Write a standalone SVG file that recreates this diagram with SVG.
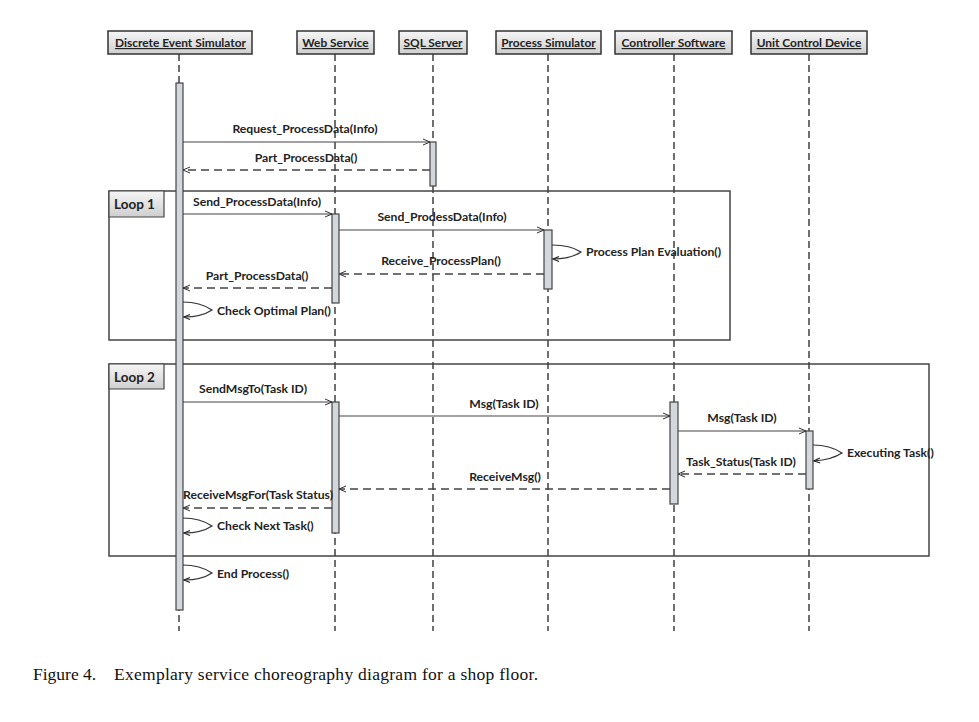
<svg xmlns="http://www.w3.org/2000/svg" width="979" height="722" viewBox="0 0 979 722">
<defs>
<linearGradient id="hg" x1="0" y1="0" x2="0" y2="1">
<stop offset="0" stop-color="#f6f6f6"/><stop offset="1" stop-color="#cfcfcf"/>
</linearGradient>
<marker id="arr" markerWidth="10" markerHeight="10" refX="8" refY="4" orient="auto" markerUnits="userSpaceOnUse">
<path d="M1,1 L8,4 L1,7" fill="none" stroke="#333" stroke-width="1"/>
</marker>
<marker id="arr2" markerWidth="10" markerHeight="10" refX="7" refY="4" orient="auto" markerUnits="userSpaceOnUse">
<path d="M1,1.5 L7,4 L1,6.5" fill="none" stroke="#222" stroke-width="1.2"/>
</marker>
</defs>
<style>
.hdr rect{fill:url(#hg);stroke:#333;stroke-width:1.5}
.hdr text{font-family:Lato,"Open Sans",sans-serif;font-weight:bold;font-size:11.9px;fill:#222;text-anchor:middle;text-decoration:underline}
.life{stroke:#333;stroke-width:1.4;stroke-dasharray:7,4}
.bar{fill:#d4d7db;stroke:#444;stroke-width:1.2}
.msg{stroke:#444;stroke-width:1.2;fill:none;marker-end:url(#arr)}
.ret{stroke:#444;stroke-width:1.4;fill:none;stroke-dasharray:8,5;marker-end:url(#arr)}
.self{stroke:#333;stroke-width:1.2;fill:none;marker-end:url(#arr2)}
.lbl{font-family:Lato,"Open Sans",sans-serif;font-weight:bold;font-size:12.2px;fill:#222}
.tag{font-family:Lato,"Open Sans",sans-serif;font-weight:bold;font-size:13.5px;fill:#222}
.frame{fill:none;stroke:#444;stroke-width:1.5}
.ftag{fill:url(#hg);stroke:#444;stroke-width:1.2}
.cap{font-family:"Liberation Serif",serif;font-size:17.5px;fill:#111}
</style>
<rect width="979" height="722" fill="#fff"/>

<g id="lifelines">
<line class="life" x1="179" y1="54" x2="179" y2="631"/>
<line class="life" x1="335" y1="54" x2="335" y2="631"/>
<line class="life" x1="433" y1="54" x2="433" y2="631"/>
<line class="life" x1="548" y1="54" x2="548" y2="631"/>
<line class="life" x1="674" y1="54" x2="674" y2="631"/>
<line class="life" x1="809" y1="54" x2="809" y2="631"/>
</g>

<g id="loop1">
<rect class="frame" x="109" y="191" width="621" height="149"/>
<path class="ftag" d="M109,191 H164 V217 H109 Z"/>
<text class="tag" x="114" y="209">Loop 1</text>
</g>
<g id="loop2">
<rect class="frame" x="109" y="364" width="820" height="192"/>
<path class="ftag" d="M109,364 H164 V389 H109 Z"/>
<text class="tag" x="114" y="381.5">Loop 2</text>
</g>

<g id="h-des" class="hdr"><rect x="108" y="31" width="144" height="23"/><text x="180.5" y="47">Discrete Event Simulator</text></g>
<g id="h-ws" class="hdr"><rect x="297" y="31" width="77" height="23"/><text x="335.5" y="47">Web Service</text></g>
<g id="h-sql" class="hdr"><rect x="399" y="31" width="68" height="23"/><text x="433" y="47">SQL Server</text></g>
<g id="h-ps" class="hdr"><rect x="496" y="31" width="105" height="23"/><text x="548.5" y="47">Process Simulator</text></g>
<g id="h-cs" class="hdr"><rect x="615" y="31" width="117" height="23"/><text x="673.5" y="47">Controller Software</text></g>
<g id="h-ucd" class="hdr"><rect x="751" y="31" width="116" height="23"/><text x="809" y="47">Unit Control Device</text></g>

<g id="activations">
<rect class="bar" x="176" y="83" width="7" height="527"/>
<rect class="bar" x="430" y="142" width="6" height="44"/>
<rect class="bar" x="332" y="214" width="7" height="89"/>
<rect class="bar" x="544" y="230" width="8" height="59"/>
<rect class="bar" x="332" y="402" width="7" height="131"/>
<rect class="bar" x="670" y="402" width="8" height="102"/>
<rect class="bar" x="806" y="431" width="7" height="58"/>
</g>

<g id="connectors">
<line class="msg" x1="183" y1="142" x2="430" y2="142"/>
<line class="ret" x1="430" y1="170" x2="183" y2="170"/>
<line class="msg" x1="183" y1="214" x2="332" y2="214"/>
<line class="msg" x1="339" y1="230" x2="544" y2="230"/>
<path class="self" d="M552,245 C566,245 575,248 581,252 C575,256 566,259 553,259"/>
<line class="ret" x1="544" y1="274" x2="339" y2="274"/>
<line class="ret" x1="332" y1="288" x2="183" y2="288"/>
<path class="self" d="M183,302 C197,302 206,306 212,310 C206,314 197,317 184,317"/>
<line class="msg" x1="183" y1="402" x2="332" y2="402"/>
<line class="msg" x1="339" y1="416" x2="670" y2="416"/>
<line class="msg" x1="678" y1="431" x2="806" y2="431"/>
<path class="self" d="M813,445 C827,445 836,449 842,453 C836,457 827,460 814,461"/>
<line class="ret" x1="806" y1="474" x2="678" y2="474"/>
<line class="ret" x1="670" y1="489" x2="339" y2="489"/>
<line class="ret" x1="332" y1="508" x2="183" y2="508"/>
<path class="self" d="M183,518 C197,518 206,522 212,526 C206,530 197,533 184,533"/>
<path class="self" d="M183,565 C197,565 206,569 212,573 C206,577 197,580 184,580"/>
</g>

<g id="labels">
<text class="lbl" x="305" y="133" text-anchor="middle">Request_ProcessData(Info)</text>
<text class="lbl" x="306" y="162" text-anchor="middle">Part_ProcessData()</text>
<text class="lbl" x="257" y="206" text-anchor="middle">Send_ProcessData(Info)</text>
<text class="lbl" x="442" y="221" text-anchor="middle">Send_ProdessData(Info)</text>
<text class="lbl" x="586" y="256">Process Plan Evaluation()</text>
<text class="lbl" x="441" y="265" text-anchor="middle">Receive_ProcessPlan()</text>
<text class="lbl" x="257" y="280" text-anchor="middle">Part_ProcessData()</text>
<text class="lbl" x="217" y="315">Check Optimal Plan()</text>
<text class="lbl" x="253" y="393" text-anchor="middle">SendMsgTo(Task ID)</text>
<text class="lbl" x="504" y="408" text-anchor="middle">Msg(Task ID)</text>
<text class="lbl" x="742" y="422" text-anchor="middle">Msg(Task ID)</text>
<text class="lbl" x="847" y="457">Executing Task()</text>
<text class="lbl" x="741" y="466" text-anchor="middle">Task_Status(Task ID)</text>
<text class="lbl" x="505" y="481" text-anchor="middle">ReceiveMsg()</text>
<text class="lbl" x="258" y="499" text-anchor="middle">ReceiveMsgFor(Task Status)</text>
<text class="lbl" x="217" y="530">Check Next Task()</text>
<text class="lbl" x="217" y="578">End Process()</text>
</g>

<g id="caption">
<text class="cap" x="33" y="680">Figure 4.</text>
<text class="cap" x="114" y="680" textLength="424" lengthAdjust="spacing">Exemplary service choreography diagram for a shop floor.</text>
</g>
</svg>
